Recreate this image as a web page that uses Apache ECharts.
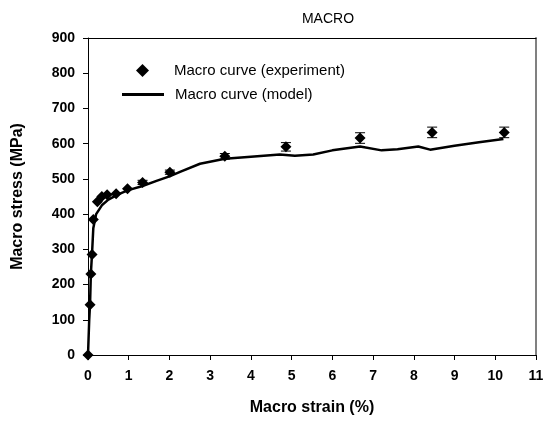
<!DOCTYPE html>
<html>
<head>
<meta charset="utf-8">
<script src="https://cdn.jsdelivr.net/npm/echarts@6/dist/echarts.min.js"></script>
<style>html,body{margin:0;padding:0;background:#fff;}#c{width:548px;height:421px;}</style>
</head>
<body>
<div id="c"></div>
<script>
var expStrain = [0, 0.05, 0.07, 0.1, 0.13, 0.23, 0.34, 0.47, 0.69, 0.97, 1.34, 2.01, 3.36, 4.86, 6.68, 8.45, 10.22];
var expStress = [0, 143, 230, 285, 385, 435, 450, 455, 458, 472, 490, 519, 564, 591, 616, 632, 632];
var expErr    = [0, 0, 0, 0, 0, 0, 0, 0, 0, 0, 6, 6, 8, 12, 15, 15, 15];
var modelStrain = [0, 0.03, 0.05, 0.07, 0.1, 0.13, 0.2, 0.34, 0.5, 0.74, 0.99, 1.32, 1.7, 2.0, 2.26, 2.75, 3.36, 4.0, 4.71, 5.08, 5.53, 6.0, 6.68, 7.21, 7.6, 8.11, 8.4, 9.0, 9.6, 10.2];
var modelStress = [0, 100, 143, 230, 290, 360, 400, 425, 441, 456, 468, 479, 495, 507, 520, 543, 557, 563, 569, 566, 569, 581, 592, 581, 584, 592, 583, 594, 604, 613];
var xTicks = [0,1,2,3,4,5,6,7,8,9,10,11];
var yTicks = [0,100,200,300,400,500,600,700,800,900];

var chart = echarts.init(document.getElementById('c'));
var expData = expStrain.map(function(x,i){return [x, expStress[i]];});
var errData = expStrain.map(function(x,i){return [x, expStress[i]-expErr[i], expStress[i]+expErr[i]];}).filter(function(d){return d[2]-d[1]>0;});
var modelData = modelStrain.map(function(x,i){return [x, modelStress[i]];});
var fontFam = '"Liberation Sans", Arial, sans-serif';
chart.setOption({
  animation: false,
  backgroundColor: '#fff',
  title: {text: 'MACRO', left: 323, top: 7, textAlign: 'center',
    textStyle: {fontSize: 14, fontWeight: 'normal', color: '#000', fontFamily: fontFam}},
  grid: {left: 88, right: 12, top: 38, bottom: 65},
  legend: [{
    left: 131, top: 58, itemWidth: 13, itemHeight: 13,
    data: [{name: 'Macro curve (experiment)', icon: 'diamond', itemStyle: {color: '#000', opacity: 1}}],
    textStyle: {fontSize: 15, color: '#000', fontFamily: fontFam, padding: [0, 0, 0, 20]}
  }, {
    left: 117, top: 82, itemWidth: 42, itemHeight: 3,
    data: [{name: 'Macro curve (model)', icon: 'rect'}],
    textStyle: {fontSize: 15, color: '#000', fontFamily: fontFam, padding: [0, 0, 0, 6]}
  }],
  xAxis: [{
    type: 'value', min: 0, max: 11, interval: 1,
    name: 'Macro strain (%)', nameLocation: 'middle', nameGap: 45,
    nameTextStyle: {fontSize: 16, fontWeight: 'bold', color: '#000', fontFamily: fontFam},
    axisLine: {onZero: false, lineStyle: {color: '#000', width: 1}},
    axisTick: {show: true, inside: false, length: 5, lineStyle: {color: '#000'}},
    axisLabel: {fontSize: 14, fontWeight: 'bold', color: '#000', margin: 14, fontFamily: fontFam},
    splitLine: {show: false}
  }, {
    type: 'value', min: 0, max: 11, position: 'top',
    axisLine: {show: true, onZero: false, lineStyle: {color: '#000', width: 1}}, axisTick: {show: false}, axisLabel: {show: false}, splitLine: {show: false}
  }],
  yAxis: [{
    type: 'value', min: 0, max: 900, interval: 100,
    name: 'Macro stress (MPa)', nameLocation: 'middle', nameGap: 62, nameRotate: 90,
    nameTextStyle: {fontSize: 16, fontWeight: 'bold', color: '#000', fontFamily: fontFam},
    axisLine: {show: true, onZero: false, lineStyle: {color: '#000', width: 1}},
    axisTick: {show: true, inside: false, length: 5, lineStyle: {color: '#000'}},
    axisLabel: {fontSize: 14, fontWeight: 'bold', color: '#000', margin: 13, fontFamily: fontFam},
    splitLine: {show: false}
  }, {
    type: 'value', min: 0, max: 900, position: 'right',
    axisLine: {show: true, onZero: false, lineStyle: {color: '#808080', width: 2}}, axisTick: {show: false}, axisLabel: {show: false}, splitLine: {show: false}
  }],
  series: [
    {name: 'Macro curve (model)', type: 'line', data: modelData, showSymbol: false, symbol: 'none',
      lineStyle: {color: '#000', width: 2.5}, itemStyle: {color: '#000'}, z: 2},
    {name: 'errbars', type: 'custom', data: errData, z: 3,
      renderItem: function(params, api){
        var x = api.value(0);
        var lo = api.coord([x, api.value(1)]);
        var hi = api.coord([x, api.value(2)]);
        var w = 5;
        var st = {stroke: '#000', lineWidth: 1};
        return {type: 'group', children: [
          {type: 'line', shape: {x1: lo[0], y1: lo[1], x2: hi[0], y2: hi[1]}, style: st},
          {type: 'line', shape: {x1: lo[0]-w, y1: lo[1], x2: lo[0]+w, y2: lo[1]}, style: st},
          {type: 'line', shape: {x1: hi[0]-w, y1: hi[1], x2: hi[0]+w, y2: hi[1]}, style: st}
        ]};
      }},
    {name: 'Macro curve (experiment)', type: 'scatter', data: expData, symbol: 'diamond', symbolSize: 11,
      itemStyle: {color: '#000', opacity: 1}, z: 4}
  ]
});
</script>
</body>
</html>
